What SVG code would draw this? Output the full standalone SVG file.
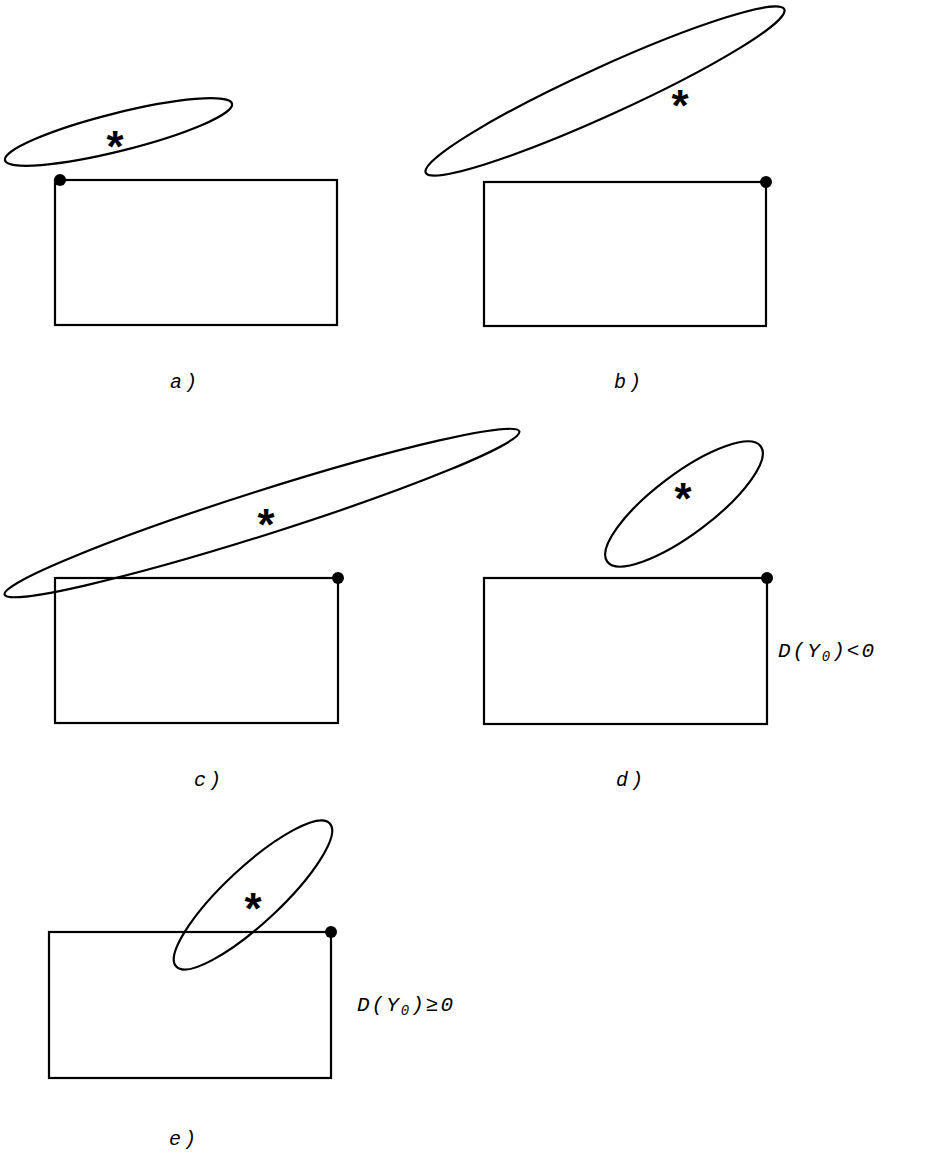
<svg xmlns="http://www.w3.org/2000/svg" width="945" height="1157" viewBox="0 0 945 1157">
<style>
.box{fill:none;stroke:#000;stroke-width:2.2}
.el{fill:none;stroke:#000;stroke-width:2.2}
.dot{fill:#000}
.star{font-family:"Liberation Sans",sans-serif;font-weight:bold;font-size:44px;text-anchor:middle}
.lbl{font-family:"Liberation Mono",monospace;font-style:italic;font-size:20px;letter-spacing:3px}
.dl{font-family:"Liberation Mono",monospace;font-style:italic;font-size:21px;letter-spacing:2px}
.sub{font-size:14px}
</style>
<rect width="945" height="1157" fill="#fff"/>
<g id="a">
<rect class="box" x="55" y="180" width="282" height="145"/>
<ellipse class="el" cx="118.5" cy="132" rx="117" ry="19" transform="rotate(-14 118.5 132)"/>
<circle class="dot" cx="60" cy="180" r="6"/>
<text class="star" x="115" y="162">*</text>
<text class="lbl" x="170" y="388">a)</text>
</g>
<g id="b">
<rect class="box" x="484" y="182" width="282" height="144"/>
<ellipse class="el" cx="605" cy="91" rx="197" ry="24" transform="rotate(-24.5 605 91)"/>
<circle class="dot" cx="766" cy="182" r="6"/>
<text class="star" x="680" y="121">*</text>
<text class="lbl" x="614" y="388">b)</text>
</g>
<g id="c">
<rect class="box" x="55" y="578" width="283" height="145"/>
<ellipse class="el" cx="262" cy="513" rx="270" ry="22" transform="rotate(-17.6 262 513)"/>
<circle class="dot" cx="338" cy="578" r="6"/>
<text class="star" x="266" y="540">*</text>
<text class="lbl" x="194" y="786">c)</text>
</g>
<g id="d">
<rect class="box" x="484" y="578" width="283" height="146"/>
<ellipse class="el" cx="684" cy="504" rx="96" ry="30" transform="rotate(-37 684 504)"/>
<circle class="dot" cx="767" cy="578" r="6"/>
<text class="star" x="683" y="514">*</text>
<text class="lbl" x="616" y="786">d)</text>
<text class="dl" x="778" y="657">D(Y<tspan class="sub" dy="4">0</tspan><tspan dy="-4">)&lt;0</tspan></text>
</g>
<g id="e">
<rect class="box" x="49" y="932" width="282" height="146"/>
<ellipse class="el" cx="253" cy="895" rx="105" ry="28" transform="rotate(-43 253 895)"/>
<circle class="dot" cx="331" cy="932" r="6"/>
<text class="star" x="253" y="924">*</text>
<text class="lbl" x="169" y="1145">e)</text>
<text class="dl" x="357" y="1011">D(Y<tspan class="sub" dy="4">0</tspan><tspan dy="-4">)≥0</tspan></text>
</g>
<g id="connectors"></g>
</svg>
